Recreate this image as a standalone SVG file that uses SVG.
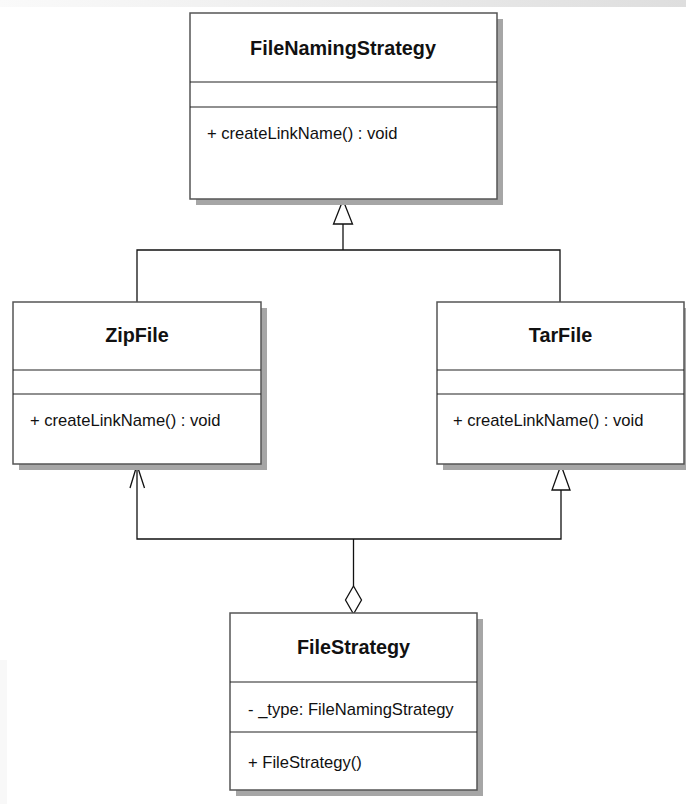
<svg xmlns="http://www.w3.org/2000/svg" width="686" height="804" viewBox="0 0 686 804">
  <defs>
    <linearGradient id="band" x1="0" y1="0" x2="1" y2="0">
      <stop offset="0" stop-color="#fafafa"/>
      <stop offset="1" stop-color="#dedede"/>
    </linearGradient>
    <style>
      .shadow { fill: #a6a6a6; }
      .box { fill: #ffffff; stroke: #555555; stroke-width: 1.5; }
      .div { stroke: #222222; stroke-width: 1.2; }
      .title { font-family: "Liberation Sans", Arial, sans-serif; font-weight: bold; font-size: 19.8px; fill: #111111; text-anchor: middle; }
      .member { font-family: "Liberation Sans", Arial, sans-serif; font-size: 16.6px; fill: #111111; }
      .line { fill: none; stroke: #111111; stroke-width: 1.3; }
      .head { fill: #ffffff; stroke: #111111; stroke-width: 1.3; }
    </style>
  </defs>
  <rect x="0" y="0" width="686" height="804" fill="#ffffff"/>
  <rect x="0" y="0" width="686" height="7" fill="url(#band)"/>
  <rect x="0" y="660" width="7" height="144" fill="#f8f8f8"/>

  <g id="connectors">
    <!-- generalization: ZipFile/TarFile to FileNamingStrategy -->
    <polyline class="line" points="137,302 137,250 560,250 560,302"/>
    <line class="line" x1="343" y1="250" x2="343" y2="224"/>
    <polygon class="head" points="343,200 333.5,224 352.5,224"/>
    <!-- FileStrategy connectors -->
    <polyline class="line" points="137,465 137,539 561,539 561,490"/>
    <polyline class="line" points="130,488 137,465 144.5,488"/>
    <polygon class="head" points="561,465 552,490 570,490"/>
    <line class="line" x1="353.5" y1="539" x2="353.5" y2="586"/>
    <polygon class="head" points="353.5,586 361.5,600 353.5,614 345.5,600"/>
  </g>

  <g id="FileNamingStrategy">
    <rect class="shadow" x="196" y="19" width="307" height="186"/>
    <rect class="box" x="190" y="13" width="307" height="186"/>
    <line class="div" x1="190" y1="82" x2="497" y2="82"/>
    <line class="div" x1="190" y1="107" x2="497" y2="107"/>
    <text class="title" x="343" y="55">FileNamingStrategy</text>
    <text class="member" x="207" y="139">+ createLinkName() : void</text>
  </g>

  <g id="ZipFile">
    <rect class="shadow" x="19" y="308" width="248" height="162"/>
    <rect class="box" x="13" y="302" width="248" height="162"/>
    <line class="div" x1="13" y1="370" x2="261" y2="370"/>
    <line class="div" x1="13" y1="394" x2="261" y2="394"/>
    <text class="title" x="137" y="342">ZipFile</text>
    <text class="member" x="30" y="426">+ createLinkName() : void</text>
  </g>

  <g id="TarFile">
    <rect class="shadow" x="443" y="308" width="247" height="162"/>
    <rect class="box" x="437" y="302" width="247" height="162"/>
    <line class="div" x1="437" y1="370" x2="684" y2="370"/>
    <line class="div" x1="437" y1="394" x2="684" y2="394"/>
    <text class="title" x="560.5" y="342">TarFile</text>
    <text class="member" x="453" y="426">+ createLinkName() : void</text>
  </g>

  <g id="FileStrategy">
    <rect class="shadow" x="236" y="619" width="247" height="177"/>
    <rect class="box" x="230" y="613" width="247" height="177"/>
    <line class="div" x1="230" y1="682" x2="477" y2="682"/>
    <line class="div" x1="230" y1="732" x2="477" y2="732"/>
    <text class="title" x="353.5" y="654">FileStrategy</text>
    <text class="member" x="248" y="715">- _type: FileNamingStrategy</text>
    <text class="member" x="248" y="768">+ FileStrategy()</text>
  </g>
</svg>
